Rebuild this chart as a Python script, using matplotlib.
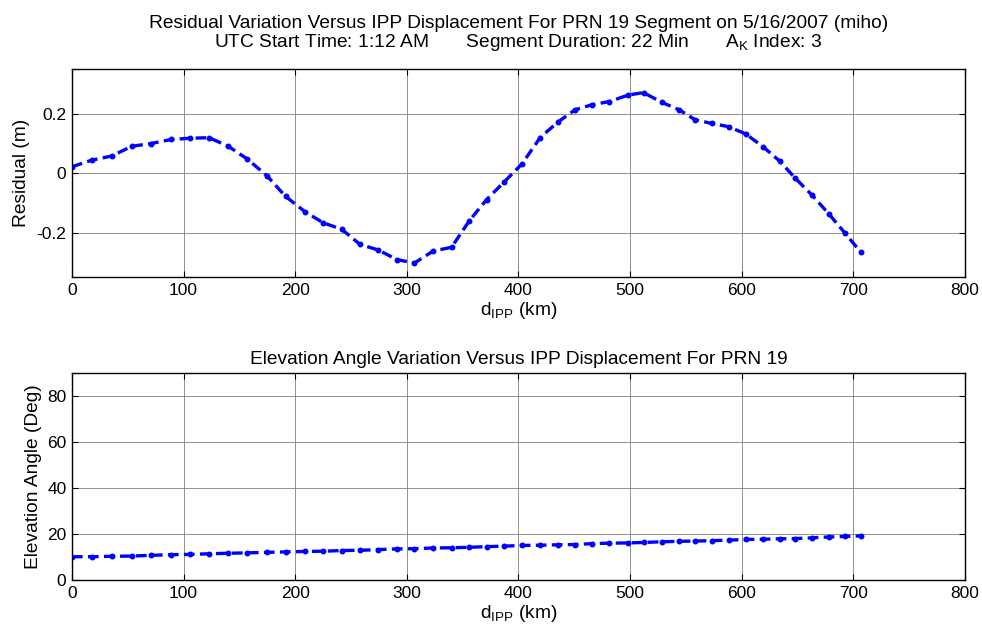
import numpy as np
import matplotlib
matplotlib.use('Agg')
import matplotlib.pyplot as plt

plt.rcParams['font.family'] = ['Liberation Sans', 'DejaVu Sans']
plt.rcParams['mathtext.fontset'] = 'custom'
plt.rcParams['mathtext.rm'] = 'Liberation Sans'
plt.rcParams['mathtext.it'] = 'Liberation Sans'
plt.rcParams['font.size'] = 12.5

# IPP displacement (km)
d_ipp = [0, 17.6, 35.5, 53.5, 70.5, 89, 105.7, 122.8, 140, 157, 174.5, 191.3,
         208.8, 225, 241.6, 258, 274.5, 290.9, 306.7, 323.7, 340, 355.8, 371.4,
         387, 403, 419.4, 435, 450.7, 465.7, 481.5, 498.5, 512, 528.4, 544,
         558.4, 573.3, 588.2, 603.4, 619.2, 634, 648, 663, 678, 692.7, 706.8]

# residual (m)
residual = [0.022, 0.044, 0.058, 0.091, 0.100, 0.114, 0.118, 0.120, 0.091,
            0.048, -0.008, -0.078, -0.130, -0.167, -0.189, -0.240, -0.259,
            -0.291, -0.303, -0.262, -0.250, -0.161, -0.089, -0.030, 0.031,
            0.120, 0.172, 0.214, 0.231, 0.242, 0.264, 0.272, 0.239, 0.214,
            0.180, 0.168, 0.157, 0.133, 0.089, 0.041, -0.017, -0.074, -0.137,
            -0.203, -0.267]

# elevation angle (deg)
elevation = [10.1, 10.1, 10.3, 10.4, 10.7, 11.0, 11.1, 11.4, 11.6, 11.8, 12.0,
             12.2, 12.4, 12.5, 12.8, 12.9, 13.2, 13.5, 13.6, 13.9, 14.0, 14.2,
             14.5, 14.7, 15.0, 15.1, 15.3, 15.4, 15.8, 16.0, 16.1, 16.3, 16.6,
             16.8, 16.9, 17.1, 17.3, 17.6, 17.7, 17.9, 18.0, 18.3, 18.7, 18.9,
             19.2]

LBL = 13.75  # labels/titles are 1.1x the tick font, like MATLAB

fig = plt.figure(figsize=(9.82, 6.26), dpi=100)
ax1 = fig.add_axes([0.0733, 0.5575, 0.9094, 0.3315])
ax2 = fig.add_axes([0.0733, 0.0735, 0.9094, 0.3310])


def style(ax):
    ax.grid(True, color='#808080', linewidth=0.6)
    ax.set_axisbelow(True)
    ax.tick_params(direction='in', top=True, right=True, length=4,
                   labelsize=12.5, pad=4)
    for s in ax.spines.values():
        s.set_linewidth(1.0)


ax1.plot(d_ipp, residual, 'b.--', linewidth=2.4, markersize=6.5, dashes=(3.2, 1.6))
ax1.set_xlim(0, 800)
ax1.set_ylim(-0.35, 0.35)
ax1.set_yticks([-0.2, 0, 0.2])
ax1.set_yticklabels(['-0.2', '0', '0.2'])
ax1.set_xticks(np.arange(0, 801, 100))
ax1.set_ylabel('Residual (m)', fontsize=LBL, labelpad=5)
ax1.set_xlabel(r'd$_{\mathrm{IPP}}$ (km)', fontsize=LBL, labelpad=2)
ax1.set_title('Residual Variation Versus IPP Displacement For PRN 19 Segment on 5/16/2007 (miho)\n'
              r'UTC Start Time: 1:12 AM       Segment Duration: 22 Min       A$_{\mathrm{K}}$ Index: 3',
              fontsize=LBL, pad=16, linespacing=1.05)
style(ax1)

ax2.plot(d_ipp, elevation, 'b.--', linewidth=2.4, markersize=6.5, dashes=(3.2, 1.6))
ax2.set_xlim(0, 800)
ax2.set_ylim(0, 90)
ax2.set_yticks(np.arange(0, 81, 20))
ax2.set_xticks(np.arange(0, 801, 100))
ax2.set_ylabel('Elevation Angle (Deg)', fontsize=LBL, labelpad=4)
ax2.set_xlabel(r'd$_{\mathrm{IPP}}$ (km)', fontsize=LBL, labelpad=1.5)
ax2.set_title('Elevation Angle Variation Versus IPP Displacement For PRN 19',
              fontsize=LBL, pad=6.5)
style(ax2)

fig.savefig('out.png', dpi=100)
